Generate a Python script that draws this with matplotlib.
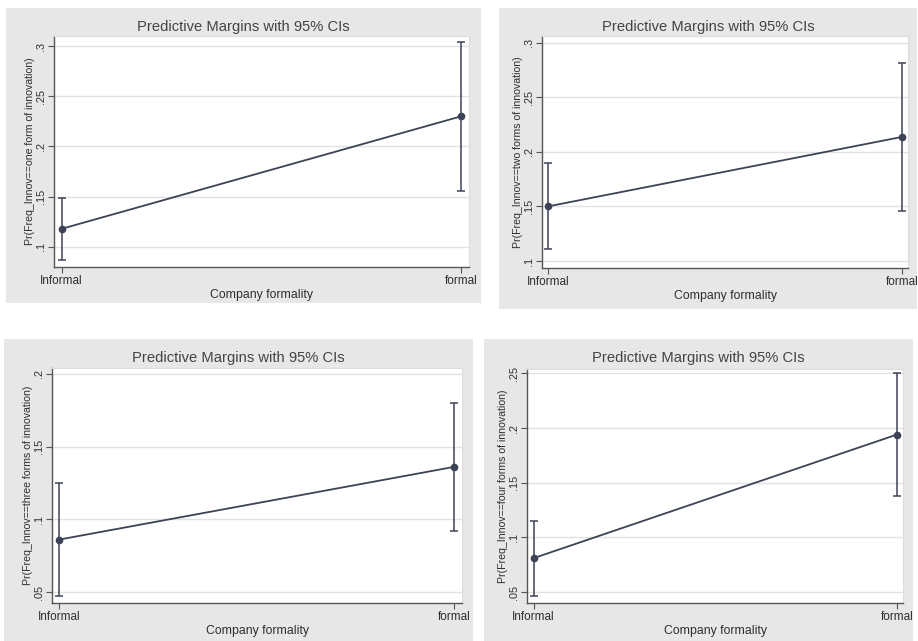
import matplotlib
matplotlib.use("Agg")
import matplotlib.pyplot as plt
from matplotlib.patches import Rectangle

plt.rcParams['font.family'] = ['Liberation Sans', 'DejaVu Sans']

# ---- data ----
categories = ["Informal", "formal"]
title_text = "Predictive Margins with 95% CIs"
x_label = "Company formality"

ylabels = [
    "Pr(Freq_Innov==one form of innovation)",
    "Pr(Freq_Innov==two forms of innovation)",
    "Pr(Freq_Innov==three forms of innovation)",
    "Pr(Freq_Innov==four forms of innovation)",
]

margin_one = [0.118, 0.230]
low_one = [0.087, 0.156]
high_one = [0.149, 0.304]

margin_two = [0.150, 0.2136]
low_two = [0.111, 0.146]
high_two = [0.190, 0.281]

margin_three = [0.086, 0.136]
low_three = [0.047, 0.092]
high_three = [0.125, 0.180]

margin_four = [0.081, 0.194]
low_four = [0.046, 0.138]
high_four = [0.115, 0.250]

yticks_one = [0.10, 0.15, 0.20, 0.25, 0.30]
ytick_labels_one = [".1", ".15", ".2", ".25", ".3"]
yticks_two = [0.10, 0.15, 0.20, 0.25, 0.30]
ytick_labels_two = [".1", ".15", ".2", ".25", ".3"]
yticks_three = [0.05, 0.10, 0.15, 0.20]
ytick_labels_three = [".05", ".1", ".15", ".2"]
yticks_four = [0.05, 0.10, 0.15, 0.20, 0.25]
ytick_labels_four = [".05", ".1", ".15", ".2", ".25"]

# ---- layout (pixels) ----
W, H = 918, 641
fig = plt.figure(figsize=(W / 100, H / 100), dpi=100)
fig.patch.set_facecolor("white")

panels = [
    dict(bg=(6, 8, 481, 303), pa=(54, 36, 469, 267), ylim=(0.080, 0.310), xlim=(-0.019, 1.020),
         m=margin_one, lo=low_one, hi=high_one, yt=yticks_one, ytl=ytick_labels_one, yl=ylabels[0]),
    dict(bg=(499, 8, 917, 309), pa=(542, 36, 908, 268), ylim=(0.0936, 0.306), xlim=(-0.017, 1.017),
         m=margin_two, lo=low_two, hi=high_two, yt=yticks_two, ytl=ytick_labels_two, yl=ylabels[1]),
    dict(bg=(4, 339, 473, 641), pa=(52, 368, 462, 603), ylim=(0.0424, 0.204), xlim=(-0.018, 1.020),
         m=margin_three, lo=low_three, hi=high_three, yt=yticks_three, ytl=ytick_labels_three, yl=ylabels[2]),
    dict(bg=(484, 339, 913, 641), pa=(527, 369, 903, 603), ylim=(0.040, 0.254), xlim=(-0.018, 1.017),
         m=margin_four, lo=low_four, hi=high_four, yt=yticks_four, ytl=ytick_labels_four, yl=ylabels[3]),
]

bg_color = "#e7e7e7"
line_color = "#3d4356"
text_color = "#2e2e2e"
axis_color = "#555555"
grid_color = "#e2e2e2"

for p in panels:
    gx0, gy0, gx1, gy1 = p["bg"]
    rect = Rectangle((gx0 / W, 1 - gy1 / H), (gx1 - gx0) / W, (gy1 - gy0) / H,
                     transform=fig.transFigure, facecolor=bg_color,
                     edgecolor="none", zorder=-10)
    fig.add_artist(rect)
    px0, py0, px1, py1 = p["pa"]
    ax = fig.add_axes([px0 / W, 1 - py1 / H, (px1 - px0) / W, (py1 - py0) / H], zorder=1)
    ax.set_facecolor("white")
    x = list(range(len(categories)))
    yerr = [[m - l for m, l in zip(p["m"], p["lo"])], [h - m for m, h in zip(p["m"], p["hi"])]]
    ax.errorbar(x, p["m"], yerr=yerr, fmt="none", ecolor=line_color, elinewidth=1.1,
                capsize=3, capthick=1.1, zorder=3, clip_on=False)
    ax.plot(x, p["m"], color=line_color, lw=1.3, marker="o", markersize=4.5,
            markerfacecolor=line_color, markeredgecolor=line_color, zorder=4, clip_on=False)
    ax.set_xlim(*p["xlim"])
    ax.set_ylim(*p["ylim"])
    ax.set_yticks(p["yt"])
    ax.set_yticklabels(p["ytl"], rotation=90, va="center", fontsize=7.8, color=text_color)
    ax.set_xticks(x)
    ax.set_xticklabels(categories, fontsize=8.5, color=text_color)
    ax.grid(axis="y", color=grid_color, lw=1.0, zorder=0)
    ax.set_axisbelow(True)
    ax.tick_params(axis="both", direction="out", length=4, width=0.8, color=axis_color, pad=2)
    for s in ["left", "bottom"]:
        ax.spines[s].set_color(axis_color)
        ax.spines[s].set_linewidth(1.0)
    for s in ["top", "right"]:
        ax.spines[s].set_color("#dddddd")
        ax.spines[s].set_linewidth(0.8)
    ax.set_xlabel(x_label, fontsize=8.8, color=text_color, labelpad=1)
    ax.set_ylabel(p["yl"], fontsize=7.6, color=text_color, labelpad=0.5)
    fig.text(((gx0 + gx1) / 2) / W, 1 - (gy0 + 19) / H, title_text, ha="center", va="center",
             fontsize=10.6, color="#444444", zorder=2)

fig.savefig("out.png", dpi=100, facecolor="white")
